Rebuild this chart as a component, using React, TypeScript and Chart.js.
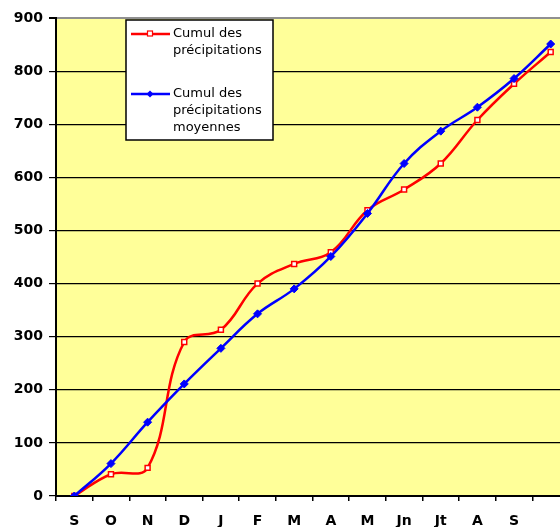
import React, { useEffect, useRef } from 'react';
import { Chart, registerables } from 'chart.js';

Chart.register(...registerables);

const months = ['S', 'O', 'N', 'D', 'J', 'F', 'M', 'A', 'M', 'Jn', 'Jt', 'A', 'S', ''];
const cumul = [0, 41, 53, 290, 313, 400, 437, 459, 538, 577, 626, 708, 776, 836];
const cumulMoyen = [0, 61, 139, 211, 278, 343, 390, 451, 532, 626, 687, 732, 786, 851];
const labelRed = ['Cumul des', 'précipitations'];
const labelBlue = ['Cumul des', 'précipitations', 'moyennes'];
const yMin = 0;
const yMax = 900;
const yStep = 100;

const RED = '#FF0000';
const BLUE = '#0000FF';
const PLOT_BG = '#FFFF99';
const FONT = '"DejaVu Sans", sans-serif';

const bgPlugin = {
  id: 'plotBg',
  beforeDraw(chart: any) {
    const { ctx, chartArea } = chart;
    ctx.save();
    ctx.fillStyle = PLOT_BG;
    ctx.fillRect(chartArea.left, chartArea.top, chartArea.right - chartArea.left, chartArea.bottom - chartArea.top);
    ctx.restore();
  },
};

const legendPlugin = {
  id: 'boxLegend',
  afterDraw(chart: any) {
    const { ctx } = chart;
    const x0 = 126, y0 = 20, w = 147, h = 120;
    ctx.save();
    ctx.fillStyle = '#FFFFFF';
    ctx.fillRect(x0, y0, w, h);
    ctx.strokeStyle = '#000';
    ctx.lineWidth = 1.5;
    ctx.strokeRect(x0, y0, w, h);

    const drawEntry = (color: string, yLine: number, lines: string[], marker: 'rect' | 'diamond') => {
      ctx.strokeStyle = color;
      ctx.lineWidth = 2.5;
      ctx.beginPath();
      ctx.moveTo(x0 + 5, yLine);
      ctx.lineTo(x0 + 44, yLine);
      ctx.stroke();
      const cx = x0 + 24;
      if (marker === 'rect') {
        ctx.fillStyle = '#fff';
        ctx.lineWidth = 1.2;
        ctx.fillRect(cx - 2.5, yLine - 3, 5, 5);
        ctx.strokeRect(cx - 2.5, yLine - 3, 5, 5);
      } else {
        ctx.fillStyle = color;
        ctx.beginPath();
        ctx.moveTo(cx, yLine - 3.5);
        ctx.lineTo(cx + 3.5, yLine);
        ctx.lineTo(cx, yLine + 3.5);
        ctx.lineTo(cx - 3.5, yLine);
        ctx.closePath();
        ctx.fill();
      }
      ctx.fillStyle = '#000';
      ctx.font = `13px ${FONT}`;
      ctx.textBaseline = 'middle';
      ctx.textAlign = 'left';
      lines.forEach((t, i) => ctx.fillText(t, x0 + 47, yLine + i * 16.7));
    };
    drawEntry(RED, 34, labelRed, 'rect');
    drawEntry(BLUE, 94, labelBlue, 'diamond');
    ctx.restore();
  },
};

export default function App() {
  const ref = useRef<HTMLCanvasElement>(null);

  useEffect(() => {
    if (!ref.current) return;
    const chart = new Chart(ref.current, {
      type: 'line',
      data: {
        labels: months,
        datasets: [
          {
            label: 'Cumul des précipitations moyennes',
            data: cumulMoyen,
            borderColor: BLUE,
            backgroundColor: BLUE,
            borderWidth: 2.5,
            tension: 0.4,
            pointStyle: 'rectRot',
            pointRadius: 4,
            pointBackgroundColor: BLUE,
            pointBorderColor: BLUE,
            pointBorderWidth: 1,
            order: 0,
          },
          {
            label: 'Cumul des précipitations',
            data: cumul,
            borderColor: RED,
            backgroundColor: RED,
            borderWidth: 2.5,
            tension: 0.4,
            pointStyle: 'rect',
            pointRadius: 3.5,
            pointBackgroundColor: '#FFFFFF',
            pointBorderColor: RED,
            pointBorderWidth: 1.5,
            order: 1,
          },
        ],
      },
      options: {
        responsive: false,
        animation: false,
        devicePixelRatio: 1,
        layout: { padding: { left: 0, top: 18, right: 31, bottom: 0 } },
        plugins: {
          legend: { display: false },
          tooltip: { enabled: false },
        },
        scales: {
          x: {
            offset: true,
            grid: {
              offset: true,
              drawOnChartArea: false,
              color: '#000',
              tickLength: 5,
              lineWidth: 1.5,
            },
            border: { display: true, color: '#000', width: 2 },
            ticks: {
              color: '#000',
              font: { family: FONT, size: 14, weight: 'bold' },
              padding: 12,
              maxRotation: 0,
              autoSkip: false,
            },
            afterFit: (s: any) => {
              s.height = 31;
            },
          },
          y: {
            min: yMin,
            max: yMax,
            ticks: {
              stepSize: yStep,
              color: '#000',
              font: { family: FONT, size: 14, weight: 'bold' },
              padding: 6,
            },
            grid: {
              color: (c: any) => (c.tick && c.tick.value === yMax ? '#909090' : '#000'),
              lineWidth: (c: any) => (c.tick && c.tick.value === yMax ? 2 : 1.2),
              tickColor: '#000',
              tickLength: 7,
            },
            border: { display: true, color: '#000', width: 2 },
            afterFit: (s: any) => {
              s.width = 56;
            },
          },
        },
      },
      plugins: [bgPlugin, legendPlugin],
    });
    return () => chart.destroy();
  }, []);

  return (
    <div style={{ position: 'fixed', left: 0, top: 0, width: 560, height: 527, overflow: 'hidden', background: '#fff' }}>
      <canvas ref={ref} width={600} height={527} style={{ display: 'block' }} />
    </div>
  );
}
